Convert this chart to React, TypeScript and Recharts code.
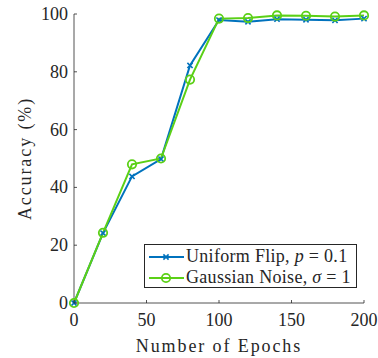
import React from "react";
import { LineChart, Line, XAxis, YAxis, Legend } from "recharts";

// epochs on the x axis, accuracy (%) per run
const epochs = [0, 20, 40, 60, 80, 100, 120, 140, 160, 180, 200];
const uniformFlip = [0, 24.2, 43.8, 49.8, 82.2, 97.9, 97.3, 98.2, 98.0, 97.8, 98.4];
const gaussianNoise = [0, 24.3, 48.0, 50.0, 77.3, 98.4, 98.6, 99.5, 99.4, 99.1, 99.5];

const xTicks = [0, 50, 100, 150, 200];
const yTicks = [0, 20, 40, 60, 80, 100];

const BLUE = "#0072BD";
const GREEN = "#5BD016";
const AXIS = "#262626";
const FONT = "Liberation Serif, serif";
const TICK_LEN = 3;

const data = epochs.map((e, i) => ({
  epoch: e,
  uniform: uniformFlip[i],
  gaussian: gaussianNoise[i],
}));

function BottomTick({ x, y, payload }: any) {
  return (
    <g>
      <line x1={x} x2={x} y1={y} y2={y - TICK_LEN} stroke={AXIS} strokeWidth={0.8} />
      <text x={x} y={y + 23} textAnchor="middle" fontFamily={FONT} fontSize={18} fill={AXIS}>
        {payload.value}
      </text>
    </g>
  );
}

function LeftTick({ x, y, payload }: any) {
  return (
    <g>
      <line x1={x} x2={x + TICK_LEN} y1={y} y2={y} stroke={AXIS} strokeWidth={0.8} />
      <text x={x - 6} y={y + 6} textAnchor="end" fontFamily={FONT} fontSize={18} fill={AXIS}>
        {payload.value}
      </text>
    </g>
  );
}

function TopTick({ x, y }: any) {
  return <line x1={x} x2={x} y1={y} y2={y + TICK_LEN} stroke={AXIS} strokeWidth={0.8} />;
}

function RightTick({ x, y }: any) {
  return <line x1={x} x2={x - TICK_LEN} y1={y} y2={y} stroke={AXIS} strokeWidth={0.8} />;
}

function CrossDot({ cx, cy }: any) {
  if (cx == null || cy == null) return null;
  const s = 2.6;
  return (
    <g stroke={BLUE} strokeWidth={1.6}>
      <line x1={cx - s} y1={cy - s} x2={cx + s} y2={cy + s} />
      <line x1={cx - s} y1={cy + s} x2={cx + s} y2={cy - s} />
    </g>
  );
}

function CircleDot({ cx, cy }: any) {
  if (cx == null || cy == null) return null;
  return <circle cx={cx} cy={cy} r={4.2} fill="none" stroke={GREEN} strokeWidth={1.8} />;
}

function LegendBox() {
  const rows = [
    { color: BLUE, dot: "x", label: <>Uniform Flip, <i>p</i> = 0.1</> },
    { color: GREEN, dot: "o", label: <>Gaussian Noise, <i>σ</i> = 1</> },
  ];
  return (
    <div
      style={{
        border: `1px solid ${AXIS}`,
        background: "#fff",
        width: 213,
        height: 44,
        boxSizing: "border-box",
        padding: "1px 0 0 3px",
        fontFamily: FONT,
        fontSize: 18,
        letterSpacing: 0.3,
        color: AXIS,
      }}
    >
      {rows.map((r, i) => (
        <div key={i} style={{ display: "flex", alignItems: "center", height: 21, whiteSpace: "nowrap" }}>
          <svg width={37} height={12} style={{ flex: "none" }}>
            <line x1={1} x2={36} y1={6} y2={6} stroke={r.color} strokeWidth={2} />
            {r.dot === "x" ? (
              <g stroke={r.color} strokeWidth={1.6}>
                <line x1={15.4} y1={3.4} x2={20.6} y2={8.6} />
                <line x1={15.4} y1={8.6} x2={20.6} y2={3.4} />
              </g>
            ) : (
              <circle cx={18} cy={6} r={4.2} fill="none" stroke={r.color} strokeWidth={1.8} />
            )}
          </svg>
          <span style={{ marginLeft: 1 }}>{r.label}</span>
        </div>
      ))}
    </div>
  );
}

export default function App() {
  return (
    <div style={{ width: 378, height: 358, background: "#fff" }}>
      <style>{"body{margin:0}"}</style>
      <LineChart width={378} height={358} data={data} margin={{ top: 14, right: 14, left: 0, bottom: 0 }}>
        <XAxis
          dataKey="epoch"
          type="number"
          domain={[0, 200]}
          ticks={xTicks}
          height={55}
          tickSize={0}
          tickMargin={0}
          tickLine={false}
          axisLine={{ stroke: AXIS, strokeWidth: 0.8 }}
          tick={<BottomTick />}
          label={{
            value: "Number of Epochs",
            position: "insideBottom",
            offset: 6,
            fontFamily: FONT,
            fontSize: 18,
            letterSpacing: 1.9,
            fill: AXIS,
          }}
        />
        <XAxis
          xAxisId="top"
          dataKey="epoch"
          type="number"
          orientation="top"
          domain={[0, 200]}
          ticks={xTicks}
          height={0}
          tickSize={0}
          tickMargin={0}
          tickLine={false}
          axisLine={{ stroke: AXIS, strokeWidth: 0.8 }}
          tick={<TopTick />}
        />
        <YAxis
          type="number"
          domain={[0, 100]}
          ticks={yTicks}
          width={74}
          tickSize={0}
          tickMargin={0}
          tickLine={false}
          axisLine={{ stroke: AXIS, strokeWidth: 0.8 }}
          tick={<LeftTick />}
          label={{
            value: "Accuracy (%)",
            angle: -90,
            position: "center",
            dx: -12,
            fontFamily: FONT,
            fontSize: 18,
            letterSpacing: 1.9,
            fill: AXIS,
          }}
        />
        <YAxis
          yAxisId="right"
          type="number"
          orientation="right"
          domain={[0, 100]}
          ticks={yTicks}
          width={0}
          tickSize={0}
          tickMargin={0}
          tickLine={false}
          axisLine={{ stroke: AXIS, strokeWidth: 0.8 }}
          tick={<RightTick />}
        />
        <Line
          dataKey="uniform"
          stroke={BLUE}
          strokeWidth={2}
          dot={<CrossDot />}
          activeDot={false}
          isAnimationActive={false}
        />
        <Line
          dataKey="gaussian"
          stroke={GREEN}
          strokeWidth={2}
          dot={<CircleDot />}
          activeDot={false}
          isAnimationActive={false}
        />
        <Legend
          layout="vertical"
          align="center"
          verticalAlign="middle"
          content={<LegendBox />}
          wrapperStyle={{ left: 144, top: 244, width: 213, height: 44 }}
        />
      </LineChart>
    </div>
  );
}
